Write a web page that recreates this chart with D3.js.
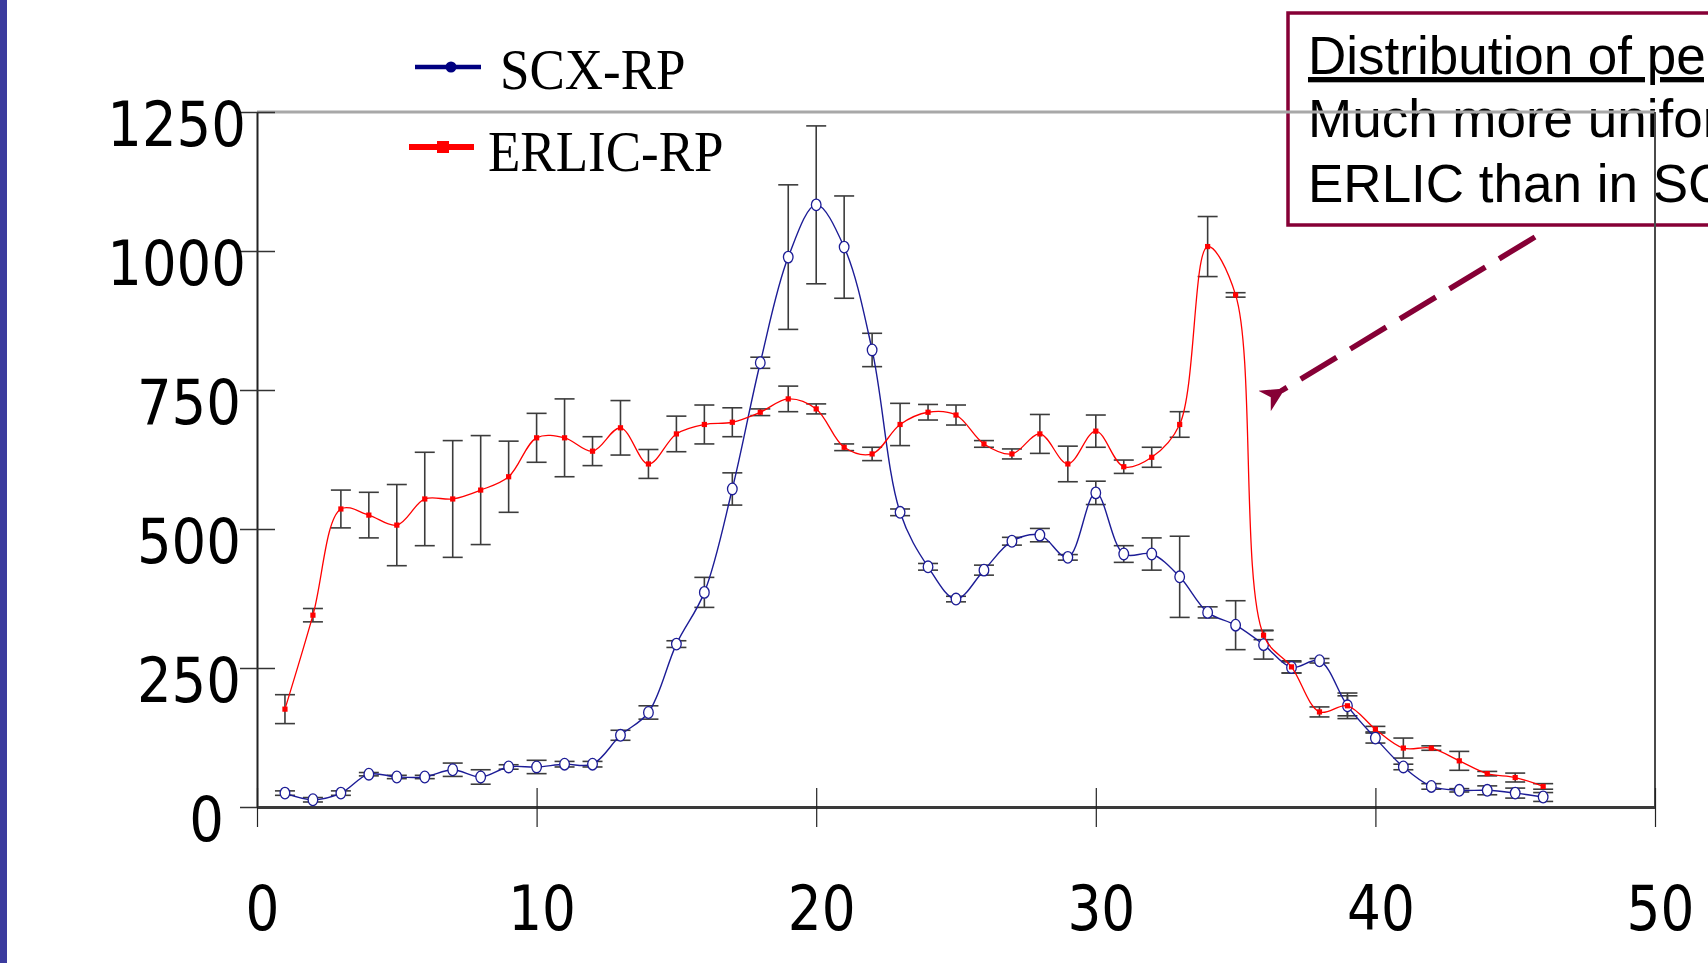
<!DOCTYPE html>
<html>
<head>
<meta charset="utf-8">
<script src="https://cdnjs.cloudflare.com/ajax/libs/d3/7.8.5/d3.min.js"></script>
<style>
  html, body { margin: 0; padding: 0; background: #fff; overflow: hidden; }
  svg { display: block; }
</style>
</head>
<body>
<svg id="chart" width="1708" height="963"></svg>
<script>
// ---------------- DATA ----------------
const fractions = [1,2,3,4,5,6,7,8,9,10,11,12,13,14,15,16,17,18,19,20,21,22,23,24,25,26,27,28,29,30,31,32,33,34,35,36,37,38,39,40,41,42,43,44,45,46];
const scxValues = [25,13,25,59,54,54,67,54,72,72, 77,77,129,170,293,386,572,799,989,1083, 1007,822,530,432,374,426,478,489,449,565, 455,455,414,350,327,292,251,263,182,124, 72,37,30,30,25,18];
const scxErrors = [4,4,4,3,3,3,12,13,4,12, 5,5,9,12,6,27,29,10,130,142, 92,30,6,6,5,9,7,12,5,21, 15,29,73,10,44,26,10,4,23,9, 5,5,3,8,9,8];
const erlicValues = [176,345,536,525,507,554,554,570,594,664, 664,640,682,617,671,688,692,710,734,716, 647,635,688,710,705,653,635,671,617,676, 612,629,688,1008,921,309,252,171,182,140, 106,106,83,60,53,37];
const erlicErrors = [26,12,34,41,73,84,105,98,64,44, 70,26,49,26,32,35,26,6,23,9, 6,12,38,14,18,6,9,35,32,29, 12,18,23,54,4,8,11,9,18,5, 18,4,17,4,8,5];
const seriesNames = ["SCX-RP", "ERLIC-RP"];
const xTickValues = [0,10,20,30,40,50];
const yTickValues = [0,250,500,750,1000,1250];
const noteLines = ["Distribution of peptides", "Much more uniform in", "ERLIC than in SCX"];

// ---------------- SETUP ----------------
const svg = d3.select("#chart");
const x = d3.scaleLinear().domain([0, 50]).range([257, 1655]);
const y = d3.scaleLinear().domain([0, 1250]).range([807, 112]);

const blue = "#1c1c96";
const red = "#ff0000";
const maroon = "#860036";

// left decorative strip
svg.append("rect").attr("x", 0).attr("y", 0).attr("width", 7).attr("height", 963).attr("fill", "#3b3b9e");

// ---------------- ANNOTATION BOX ----------------
const note = svg.append("g");
note.append("rect")
  .attr("x", 1288).attr("y", 13).attr("width", 520).attr("height", 212)
  .attr("fill", "none").attr("stroke", maroon).attr("stroke-width", 3.5);
const baselines = [74, 137, 202];
noteLines.forEach((t, i) => {
  note.append("text")
    .attr("x", 1308).attr("y", baselines[i])
    .attr("font-family", "Liberation Sans, Arial, sans-serif")
    .attr("font-size", 53)
    .attr("fill", "#000")
    .style("text-decoration", i === 0 ? "underline" : "none")
    .text(t);
});

// arrow
const defs = svg.append("defs");
defs.append("marker")
  .attr("id", "arrowHead")
  .attr("viewBox", "0 0 10 10")
  .attr("refX", 2).attr("refY", 5)
  .attr("markerWidth", 26).attr("markerHeight", 24)
  .attr("markerUnits", "userSpaceOnUse")
  .attr("orient", "auto")
  .append("path").attr("d", "M0,5 L10,0 L7,5 L10,10 Z").attr("fill", maroon);
svg.append("line")
  .attr("x1", 1535).attr("y1", 237).attr("x2", 1281).attr("y2", 391)
  .attr("stroke", maroon).attr("stroke-width", 5.5)
  .attr("stroke-dasharray", "42,16")
  .attr("marker-end", "url(#arrowHead)");

// ---------------- FRAME ----------------
svg.append("line").attr("x1", x(0)).attr("x2", x(50)).attr("y1", y(1250)).attr("y2", y(1250))
  .attr("stroke", "#a8a8a8").attr("stroke-width", 3);
svg.append("line").attr("x1", x(50)).attr("x2", x(50)).attr("y1", y(1250)).attr("y2", y(0))
  .attr("stroke", "#4a4a4a").attr("stroke-width", 2);

// ---------------- AXES ----------------
const yAxis = svg.append("g").attr("transform", `translate(${x(0)},0)`)
  .call(d3.axisLeft(y).tickValues(yTickValues).tickSize(17).tickSizeOuter(0).tickFormat(d => d));
yAxis.select(".domain").attr("stroke", "#222").attr("stroke-width", 2);
yAxis.selectAll(".tick line").attr("stroke", "#333").attr("stroke-width", 1.5);
yAxis.selectAll(".tick").append("line").attr("x1", 0).attr("x2", 18).attr("stroke", "#333").attr("stroke-width", 1.5);
yAxis.selectAll(".tick text")
  .attr("x", 0).attr("dy", null)
  .attr("transform", d => `translate(${d >= 1000 ? -11 : d >= 100 ? -16 : -33},33) scale(0.88,1)`)
  .attr("text-anchor", "end")
  .attr("font-family", "DejaVu Sans, sans-serif")
  .attr("font-size", 62).attr("fill", "#000");

const xAxis = svg.append("g").attr("transform", `translate(0,${y(0)})`)
  .call(d3.axisBottom(x).tickValues(xTickValues).tickSize(20).tickSizeOuter(0).tickFormat(d => d));
xAxis.select(".domain").attr("stroke", "#3a3a3a").attr("stroke-width", 3);
xAxis.selectAll(".tick line").attr("stroke", "#222").attr("stroke-width", 1.2);
xAxis.selectAll(".tick").append("line").attr("y1", 0).attr("y2", -19).attr("stroke", "#222").attr("stroke-width", 1.2);
xAxis.selectAll(".tick text")
  .attr("y", 0).attr("dy", null)
  .attr("transform", "translate(5,123) scale(0.86,1)")
  .attr("text-anchor", "middle")
  .attr("font-family", "DejaVu Sans, sans-serif")
  .attr("font-size", 62).attr("fill", "#000");

// ---------------- SERIES ----------------
const scxData = fractions.map((f, i) => ({ f, v: scxValues[i], e: scxErrors[i] }));
const erlicData = fractions.map((f, i) => ({ f, v: erlicValues[i], e: erlicErrors[i] }));

function errorBars(data) {
  const g = svg.append("g").attr("stroke", "#3c3c3c").attr("stroke-width", 1.6);
  data.forEach(d => {
    const cx = x(d.f);
    g.append("line").attr("x1", cx).attr("x2", cx).attr("y1", y(d.v + d.e)).attr("y2", y(d.v - d.e));
    g.append("line").attr("x1", cx - 10).attr("x2", cx + 10).attr("y1", y(d.v + d.e)).attr("y2", y(d.v + d.e));
    g.append("line").attr("x1", cx - 10).attr("x2", cx + 10).attr("y1", y(d.v - d.e)).attr("y2", y(d.v - d.e));
  });
}
errorBars(scxData);
errorBars(erlicData);

const line = d3.line().x(d => x(d.f)).y(d => y(d.v)).curve(d3.curveCatmullRom.alpha(0.5));

svg.append("path").datum(scxData).attr("d", line)
  .attr("fill", "none").attr("stroke", blue).attr("stroke-width", 1.4);
svg.append("g").selectAll("ellipse").data(scxData).join("ellipse")
  .attr("cx", d => x(d.f)).attr("cy", d => y(d.v))
  .attr("rx", 4.8).attr("ry", 5.8)
  .attr("fill", "#fff").attr("stroke", blue).attr("stroke-width", 1.3);

svg.append("path").datum(erlicData).attr("d", line)
  .attr("fill", "none").attr("stroke", red).attr("stroke-width", 1.3);
svg.append("g").selectAll("rect").data(erlicData).join("rect")
  .attr("x", d => x(d.f) - 2.6).attr("y", d => y(d.v) - 2.6)
  .attr("width", 5.2).attr("height", 5.2).attr("fill", red);

// ---------------- LEGEND ----------------
const legend = svg.append("g");
legend.append("line").attr("x1", 415).attr("x2", 481).attr("y1", 67).attr("y2", 67)
  .attr("stroke", "#000080").attr("stroke-width", 4.5);
legend.append("circle").attr("cx", 451).attr("cy", 67).attr("r", 5.5).attr("fill", "#000080");
legend.append("text").attr("transform", "translate(500,89) scale(0.93,1)")
  .attr("font-family", "Liberation Serif, Times New Roman, serif").attr("font-size", 57).attr("fill", "#000")
  .text(seriesNames[0]);
legend.append("line").attr("x1", 409).attr("x2", 474).attr("y1", 147).attr("y2", 147)
  .attr("stroke", red).attr("stroke-width", 6);
legend.append("rect").attr("x", 437).attr("y", 141).attr("width", 12).attr("height", 12).attr("fill", red);
legend.append("text").attr("transform", "translate(488,171) scale(0.93,1)")
  .attr("font-family", "Liberation Serif, Times New Roman, serif").attr("font-size", 57).attr("fill", "#000")
  .text(seriesNames[1]);
</script>
</body>
</html>
